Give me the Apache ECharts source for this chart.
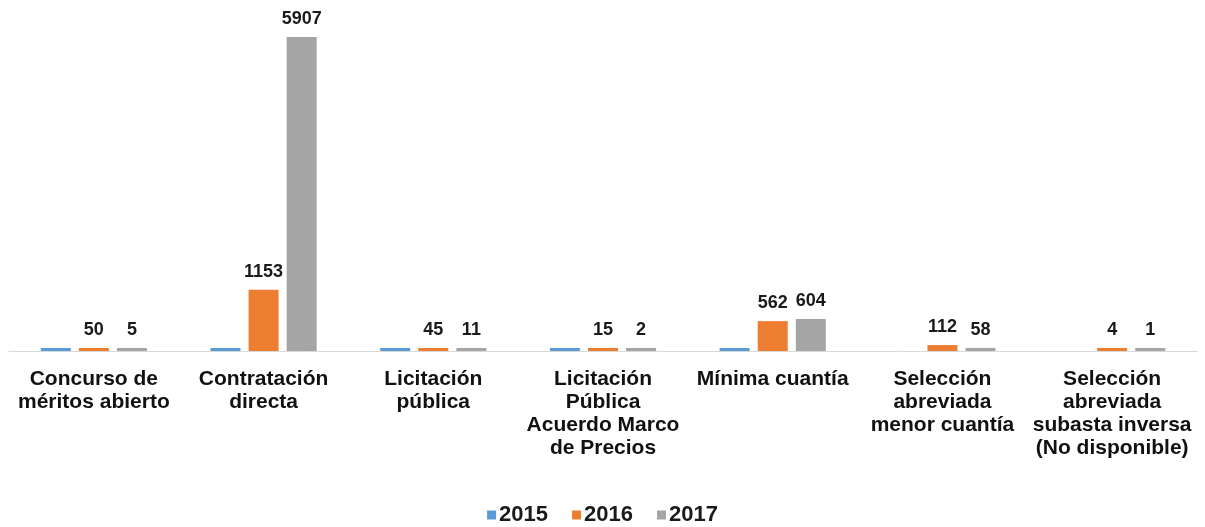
<!DOCTYPE html>
<html>
<head>
<meta charset="utf-8">
<script src="https://cdn.jsdelivr.net/npm/echarts@6/dist/echarts.min.js"></script>
<style>html,body{margin:0;padding:0;background:#fff}#c{width:1205px;height:527px}</style>
</head>
<body>
<div id="c"></div>
<script>
var categories = [
  "Concurso de\nméritos abierto",
  "Contratación\ndirecta",
  "Licitación\npública",
  "Licitación\nPública\nAcuerdo Marco\nde Precios",
  "Mínima cuantía",
  "Selección\nabreviada\nmenor cuantía",
  "Selección\nabreviada\nsubasta inversa\n(No disponible)"
];
var seriesNames = ["2015", "2016", "2017"];
var values2015 = [0, 0, 0, 0, 0, null, null];
var values2016 = [50, 1153, 45, 15, 562, 112, 4];
var values2017 = [5, 5907, 11, 2, 604, 58, 1];
var colors = ["#5b9bd5", "#ed7d31", "#a5a5a5"];

var chart = echarts.init(document.getElementById('c'));
var font = '"Liberation Sans", Arial, sans-serif';
function mk(name, data, color, showLabel) {
  return {
    name: name, type: 'bar', data: data, barWidth: 30, barGap: '27%',
    barMinHeight: 3,
    itemStyle: { color: color },
    label: { show: showLabel, position: 'top', distance: 9, color: '#1a1a1a',
      fontFamily: font, fontWeight: 'bold', fontSize: 18 }
  };
}
chart.setOption({
  animation: false,
  color: colors,
  grid: { left: 9, right: 8, top: 32, bottom: 176 },
  legend: {
    bottom: -4, left: 'center', itemWidth: 9, itemHeight: 9, itemGap: 24,
    icon: 'rect',
    textStyle: { fontFamily: font, fontWeight: 'bold', fontSize: 22, color: '#1a1a1a', padding: [0,0,0,-2] },
    data: seriesNames
  },
  xAxis: {
    type: 'category', data: categories,
    axisLine: { lineStyle: { color: '#d9d9d9', width: 1 } },
    axisTick: { show: false },
    axisLabel: { interval: 0, margin: 17, color: '#111', fontFamily: font, fontWeight: 'bold', fontSize: 21, lineHeight: 23 }
  },
  yAxis: { type: 'value', min: 0, max: 6000, show: false, splitLine: { show: false } },
  series: [
    mk(seriesNames[0], values2015, colors[0], false),
    mk(seriesNames[1], values2016, colors[1], true),
    mk(seriesNames[2], values2017, colors[2], true)
  ]
});
</script>
</body>
</html>
